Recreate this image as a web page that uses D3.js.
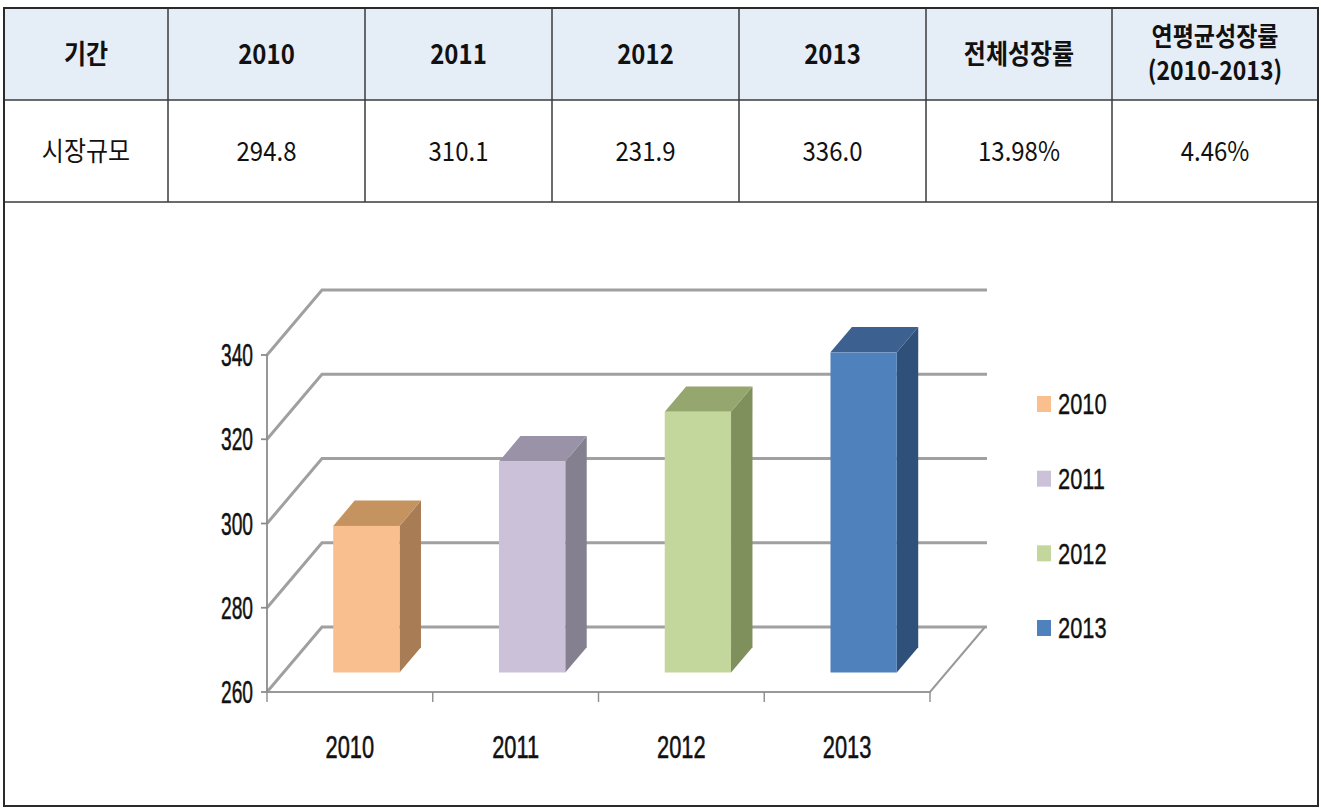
<!DOCTYPE html>
<html>
<head>
<meta charset="utf-8">
<script src="https://cdn.jsdelivr.net/npm/d3@7"></script>
<style>
  body { margin: 0; background: #fff; }
  svg { display: block; }
</style>
</head>
<body>
<div id="chart"></div>
<script>
// table data
headers = ["기간", "2010", "2011", "2012", "2013", "전체성장률", ["연평균성장률", "(2010-2013)"]]
rowLabel = "시장규모"
rowValues = ["294.8", "310.1", "231.9", "336.0", "13.98%", "4.46%"]

// chart data
years = ["2010", "2011", "2012", "2013"]
values = [294.8, 310.1, 321.9, 336.0]
yTicks = [260, 280, 300, 320, 340]
colors = [
  {front: "#f9bf8f", top: "#c4935f", side: "#a87d56"},
  {front: "#cbc2da", top: "#9a93a8", side: "#858090"},
  {front: "#c3d69b", top: "#95a66f", side: "#7f905d"},
  {front: "#4f81bd", top: "#3c6190", side: "#2f5079"}
]

const width = 1321, height = 809
const svg = d3.select("#chart").append("svg")
    .attr("width", width)
    .attr("height", height)

// the source picture is stretched a bit vertically, so text gets scaled
function label(sel, x, y, txt, opt) {
  return sel.append("text")
      .attr("transform", `translate(${x},${y}) scale(${opt.sx || 1},${opt.sy || 1})`)
      .attr("dy", "0.36em")
      .attr("text-anchor", opt.anchor || "middle")
      .attr("font-family", opt.font)
      .attr("font-weight", opt.weight || 400)
      .style("font-size", opt.size + "px")
      .attr("fill", "#111")
      .attr("stroke", opt.thick ? "#111" : "none")
      .attr("stroke-width", opt.thick || 0)
      .text(txt)
}

// table layout
colEdges = [4, 168, 365, 552, 739, 926, 1112, 1318]
rowEdges = [8, 100, 202, 806]

const tbl = svg.append("g").attr("class", "table")

tbl.append("rect")
    .attr("x", colEdges[0]).attr("y", rowEdges[0])
    .attr("width", colEdges[7] - colEdges[0])
    .attr("height", rowEdges[1] - rowEdges[0])
    .attr("fill", "#e5edf7")

tbl.selectAll("line.v")
    .data(colEdges.slice(1, -1))
    .join("line")
    .attr("class", "v")
    .attr("x1", d => d).attr("x2", d => d)
    .attr("y1", rowEdges[0]).attr("y2", rowEdges[2])
    .attr("stroke", "#3a3a3a").attr("stroke-width", 1.5)

tbl.selectAll("line.h")
    .data(rowEdges.slice(1, -1))
    .join("line")
    .attr("class", "h")
    .attr("x1", colEdges[0]).attr("x2", colEdges[7])
    .attr("y1", d => d).attr("y2", d => d)
    .attr("stroke", "#3a3a3a").attr("stroke-width", 1.5)

tbl.append("rect")
    .attr("x", colEdges[0]).attr("y", rowEdges[0])
    .attr("width", colEdges[7] - colEdges[0])
    .attr("height", rowEdges[3] - rowEdges[0])
    .attr("fill", "none")
    .attr("stroke", "#2a2a2a").attr("stroke-width", 2)

const kfont = "'Noto Sans CJK KR', 'Noto Sans', sans-serif"

headers.forEach((h, i) => {
  const cx = (colEdges[i] + colEdges[i + 1]) / 2
  const lines = Array.isArray(h) ? h : [h]
  const cy = (rowEdges[0] + rowEdges[1]) / 2
  lines.forEach((t, j) => {
    label(tbl, cx, cy + (j - (lines.length - 1) / 2) * 34, t,
      {font: kfont, weight: 700, size: lines.length > 1 ? 23 : 24, sy: 1.12})
  })
})

const rowCells = [rowLabel].concat(rowValues)
rowCells.forEach((t, i) => {
  label(tbl, (colEdges[i] + colEdges[i + 1]) / 2, (rowEdges[1] + rowEdges[2]) / 2, t,
    {font: kfont, size: 24, sy: 1.12})
})

// 3D bar chart
const depth = {dx: 55, dy: -65}
const floorY = 692, topY = 355
const x = d3.scaleBand().domain(years).range([267, 930])
const y = d3.scaleLinear().domain([260, 340]).range([floorY, topY])
const backRight = 987

const ch = svg.append("g").attr("class", "chart")
const cfont = "'Liberation Sans', Arial, sans-serif"

// back wall gridlines and left wall slants
ch.selectAll("path.grid")
    .data(yTicks)
    .join("path")
    .attr("class", "grid")
    .attr("d", t => `M${x.range()[0]},${y(t)} L${x.range()[0] + depth.dx},${y(t) + depth.dy} L${backRight},${y(t) + depth.dy}`)
    .attr("fill", "none")
    .attr("stroke", "#a0a0a0")
    .attr("stroke-width", 3)

// floor front + right edge
ch.append("path")
    .attr("d", `M${x.range()[0]},${floorY} L${x.range()[1]},${floorY} L${x.range()[1] + depth.dx},${floorY + depth.dy}`)
    .attr("fill", "none")
    .attr("stroke", "#999")
    .attr("stroke-width", 2)

// y axis
ch.append("line")
    .attr("x1", x.range()[0]).attr("x2", x.range()[0])
    .attr("y1", y(340)).attr("y2", floorY)
    .attr("stroke", "#8c8c8c").attr("stroke-width", 1.8)

ch.selectAll("line.ytick")
    .data(yTicks)
    .join("line")
    .attr("class", "ytick")
    .attr("x1", x.range()[0] - 6).attr("x2", x.range()[0])
    .attr("y1", d => y(d)).attr("y2", d => y(d))
    .attr("stroke", "#8c8c8c").attr("stroke-width", 1.8)

yTicks.forEach(t => {
  label(ch, 253, y(t), t, {font: cfont, size: 24, anchor: "end", sx: 0.8, sy: 1.3, thick: 0.4})
})

// x ticks at band edges
const xEdges = years.map(d => x(d)).concat([x.range()[1]])
ch.selectAll("line.xtick")
    .data(xEdges)
    .join("line")
    .attr("class", "xtick")
    .attr("x1", d => d).attr("x2", d => d)
    .attr("y1", floorY).attr("y2", floorY + 10)
    .attr("stroke", "#8c8c8c").attr("stroke-width", 1.4)

years.forEach(yr => {
  label(ch, x(yr) + x.bandwidth() / 2, 747, yr, {font: cfont, size: 23, sx: 0.95, sy: 1.35, thick: 0.4})
})

// bars: front face at depth z0, thickness dz
const z0 = 0.3, dz = 0.39
const barW = x.bandwidth() * 0.4
const bars = years.map((yr, i) => {
  const xf = x(yr) + (x.bandwidth() - barW) / 2 + z0 * depth.dx
  const yb = y(260) + z0 * depth.dy
  const yt = y(values[i]) + z0 * depth.dy
  const ox = dz * depth.dx, oy = dz * depth.dy
  return {yr, i, xf, yb, yt, ox, oy}
})

const bg = ch.selectAll("g.bar").data(bars).join("g").attr("class", "bar")

bg.append("path")
    .attr("d", b => `M${b.xf + barW},${b.yb} L${b.xf + barW + b.ox},${b.yb + b.oy} L${b.xf + barW + b.ox},${b.yt + b.oy} L${b.xf + barW},${b.yt} Z`)
    .attr("fill", b => colors[b.i].side)

bg.append("path")
    .attr("d", b => `M${b.xf},${b.yt} L${b.xf + b.ox},${b.yt + b.oy} L${b.xf + barW + b.ox},${b.yt + b.oy} L${b.xf + barW},${b.yt} Z`)
    .attr("fill", b => colors[b.i].top)

bg.append("rect")
    .attr("x", b => b.xf)
    .attr("y", b => b.yt)
    .attr("width", barW)
    .attr("height", b => b.yb - b.yt)
    .attr("fill", b => colors[b.i].front)

// legend
const legY = d3.scalePoint().domain(years).range([404, 628])
years.forEach((yr, i) => {
  ch.append("rect")
      .attr("x", 1037).attr("y", legY(yr) - 8)
      .attr("width", 14).attr("height", 16)
      .attr("fill", colors[i].front)
  label(ch, 1058, legY(yr), yr, {font: cfont, size: 23, anchor: "start", sx: 0.95, sy: 1.25, thick: 0.3})
})
</script>
</body>
</html>
